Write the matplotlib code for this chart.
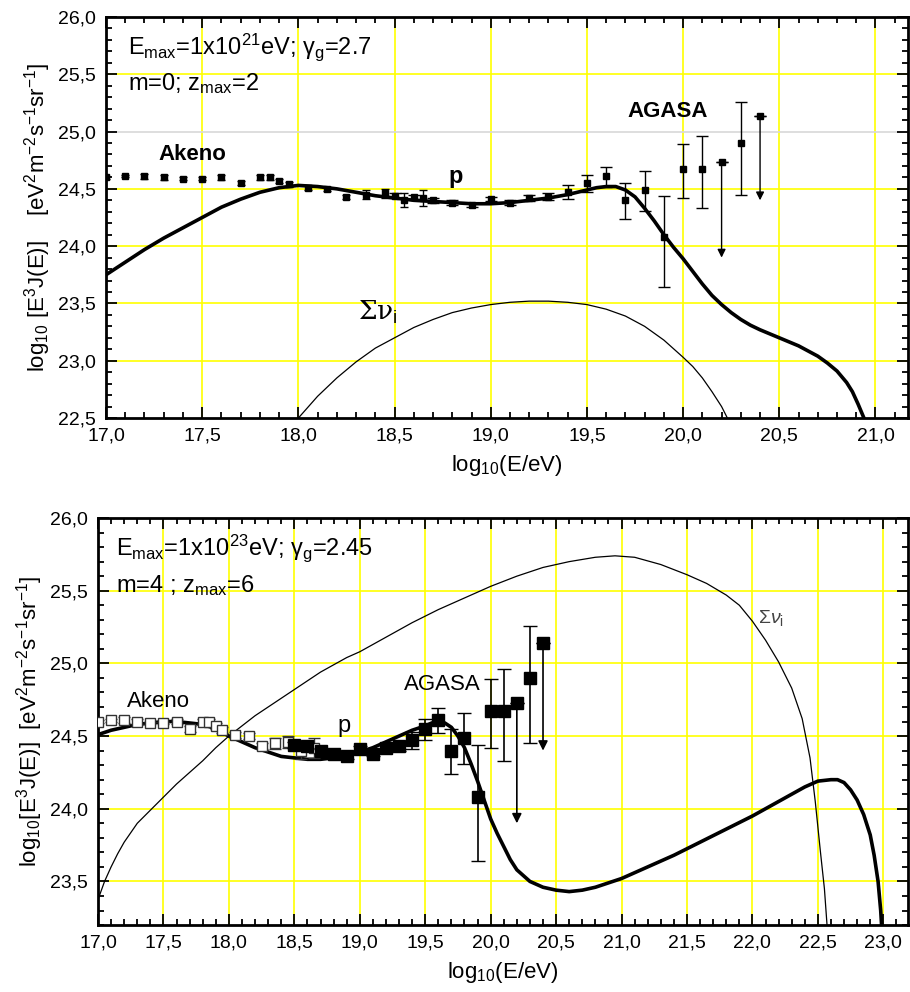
import matplotlib.pyplot as plt
import numpy as np
from matplotlib import font_manager
from matplotlib.ticker import MultipleLocator, FuncFormatter

# font: narrow Arial-like if available
names = {f.name for f in font_manager.fontManager.ttflist}
base = 'Liberation Sans Narrow' if 'Liberation Sans Narrow' in names else 'Liberation Sans'
plt.rcParams['font.family'] = [base, 'DejaVu Sans']
plt.rcParams['mathtext.fontset'] = 'custom'
plt.rcParams['mathtext.rm'] = base
plt.rcParams['mathtext.it'] = base + ':italic'
plt.rcParams['mathtext.bf'] = base + ':bold'

# ---- data (log10 E, log10 E^3 J) ----
akeno_lgE = [17.0, 17.1, 17.2, 17.3, 17.4, 17.5, 17.6, 17.7, 17.8, 17.85,
             17.9, 17.95, 18.05, 18.15, 18.25, 18.35, 18.45, 18.55, 18.65]
akeno_val = [24.60, 24.61, 24.61, 24.60, 24.59, 24.59, 24.60, 24.55, 24.60, 24.60,
             24.57, 24.54, 24.51, 24.50, 24.43, 24.45, 24.46, 24.40, 24.42]
akeno_err = [0.01, 0.01, 0.02, 0.02, 0.01, 0.01, 0.02, 0.02, 0.02, 0.02,
             0.02, 0.02, 0.02, 0.02, 0.02, 0.04, 0.04, 0.06, 0.07]

agasa_lgE = [18.5, 18.6, 18.7, 18.8, 18.9, 19.0, 19.1, 19.2, 19.3, 19.4,
             19.5, 19.6, 19.7, 19.8, 19.9, 20.0, 20.1, 20.2, 20.3, 20.4]
agasa_val = [24.44, 24.43, 24.40, 24.38, 24.36, 24.41, 24.38, 24.42, 24.43, 24.47,
             24.55, 24.61, 24.40, 24.49, 24.08, 24.67, 24.67, 24.73, 24.90, 25.14]
agasa_err_lo = [0.02, 0.02, 0.02, 0.02, 0.02, 0.02, 0.02, 0.03, 0.03, 0.06,
                0.08, 0.09, 0.16, 0.18, 0.44, 0.25, 0.34, 0.0, 0.45, 0.0]
agasa_err_hi = [0.02, 0.02, 0.02, 0.02, 0.02, 0.02, 0.02, 0.03, 0.03, 0.06,
                0.07, 0.08, 0.15, 0.17, 0.36, 0.22, 0.29, 0.0, 0.36, 0.0]
# upper limits
ul_lgE = [20.2, 20.4]
ul_tip = [23.9, 24.4]

# top panel model curves (Emax=1e21, gamma=2.7)
p1_lgE = [17.0, 17.1, 17.2, 17.3, 17.4, 17.5, 17.6, 17.7, 17.8, 17.9,
          18.0, 18.1, 18.2, 18.3, 18.4, 18.5, 18.6, 18.7, 18.8, 18.9,
          19.0, 19.1, 19.2, 19.3, 19.4, 19.5, 19.55, 19.6, 19.65, 19.7,
          19.75, 19.8, 19.85, 19.9, 19.95, 20.0, 20.05, 20.1, 20.15, 20.2,
          20.25, 20.3, 20.35, 20.4, 20.5, 20.6, 20.7, 20.75, 20.8, 20.85,
          20.88, 20.91, 20.94]
p1_val = [23.75, 23.86, 23.97, 24.07, 24.16, 24.25, 24.34, 24.41, 24.47, 24.51,
          24.53, 24.52, 24.50, 24.47, 24.44, 24.42, 24.40, 24.39, 24.38, 24.37,
          24.37, 24.38, 24.40, 24.42, 24.45, 24.49, 24.51, 24.52, 24.52, 24.49,
          24.43, 24.33, 24.22, 24.10, 23.99, 23.89, 23.78, 23.67, 23.57, 23.49,
          23.42, 23.36, 23.31, 23.27, 23.20, 23.13, 23.04, 22.98, 22.91, 22.81,
          22.73, 22.62, 22.50]
nu1_lgE = [18.0, 18.1, 18.2, 18.3, 18.4, 18.5, 18.6, 18.7, 18.8, 18.9,
           19.0, 19.1, 19.2, 19.3, 19.4, 19.5, 19.6, 19.7, 19.8, 19.9,
           20.0, 20.05, 20.1, 20.15, 20.2, 20.23]
nu1_val = [22.50, 22.69, 22.85, 22.99, 23.11, 23.20, 23.29, 23.36, 23.42, 23.46,
           23.49, 23.51, 23.52, 23.52, 23.51, 23.49, 23.45, 23.39, 23.30, 23.18,
           23.03, 22.95, 22.85, 22.73, 22.60, 22.50]

# bottom panel model curves (Emax=1e23, gamma=2.45)
p2_lgE = [17.0, 17.1, 17.2, 17.3, 17.4, 17.5, 17.6, 17.7, 17.8, 17.9,
          18.0, 18.1, 18.2, 18.3, 18.4, 18.5, 18.6, 18.7, 18.8, 18.9,
          19.0, 19.1, 19.2, 19.3, 19.4, 19.5, 19.55, 19.6, 19.65, 19.7,
          19.75, 19.8, 19.85, 19.9, 19.95, 20.0, 20.05, 20.1, 20.15, 20.2,
          20.3, 20.4, 20.5, 20.6, 20.7, 20.8, 20.9, 21.0, 21.2, 21.4,
          21.6, 21.8, 22.0, 22.2, 22.3, 22.4, 22.5, 22.6, 22.65, 22.7,
          22.75, 22.8, 22.85, 22.9, 22.93, 22.96, 22.98, 22.99]
p2_val = [24.51, 24.54, 24.56, 24.58, 24.59, 24.60, 24.60, 24.59, 24.58, 24.55,
          24.50, 24.46, 24.42, 24.39, 24.36, 24.35, 24.34, 24.34, 24.35, 24.37,
          24.39, 24.42, 24.46, 24.50, 24.54, 24.57, 24.59, 24.60, 24.59, 24.56,
          24.50, 24.42, 24.31, 24.19, 24.06, 23.93, 23.83, 23.74, 23.65, 23.58,
          23.50, 23.46, 23.44, 23.43, 23.44, 23.46, 23.49, 23.52, 23.60, 23.68,
          23.77, 23.86, 23.95, 24.05, 24.10, 24.15, 24.19, 24.20, 24.20, 24.18,
          24.13, 24.06, 23.96, 23.82, 23.68, 23.50, 23.30, 23.15]
nu2_lgE = [17.0, 17.05, 17.1, 17.15, 17.2, 17.3, 17.4, 17.5, 17.6, 17.7,
           17.8, 17.9, 18.0, 18.1, 18.2, 18.3, 18.4, 18.5, 18.6, 18.7,
           18.8, 18.9, 19.0, 19.2, 19.4, 19.6, 19.8, 20.0, 20.2, 20.4,
           20.6, 20.8, 20.95, 21.1, 21.3, 21.5, 21.65, 21.8, 21.9, 22.0,
           22.1, 22.2, 22.3, 22.38, 22.44, 22.48, 22.52, 22.55, 22.57]
nu2_val = [23.375, 23.50, 23.60, 23.69, 23.77, 23.90, 23.99, 24.08, 24.17, 24.25,
           24.33, 24.42, 24.50, 24.57, 24.64, 24.70, 24.76, 24.82, 24.88, 24.94,
           24.99, 25.04, 25.08, 25.18, 25.28, 25.37, 25.45, 25.53, 25.60, 25.66,
           25.70, 25.73, 25.74, 25.73, 25.68, 25.61, 25.55, 25.47, 25.40, 25.29,
           25.16, 25.01, 24.83, 24.62, 24.35, 24.05, 23.70, 23.45, 23.20]


def comma(v, pos):
    return f"{v:.1f}".replace('.', ',')


def style_axes(ax, xlim, ylim, yticks, grey_lines=()):
    ax.set_xlim(*xlim)
    ax.set_ylim(*ylim)
    ax.xaxis.set_major_locator(MultipleLocator(0.5))
    ax.xaxis.set_minor_locator(MultipleLocator(0.1))
    ax.set_yticks(yticks)
    ax.yaxis.set_minor_locator(MultipleLocator(0.1))
    ax.xaxis.set_major_formatter(FuncFormatter(comma))
    ax.yaxis.set_major_formatter(FuncFormatter(comma))
    ax.tick_params(which='both', direction='in', top=True, right=True,
                   labelsize=14, width=1.3)
    ax.tick_params(which='major', length=8, pad=7)
    ax.tick_params(which='minor', length=4)
    for s in ax.spines.values():
        s.set_linewidth(2)
    xs = np.arange(xlim[0] + 0.5, xlim[1], 0.5)
    for x in xs:
        ax.axvline(x, color='#ffff00', lw=1.2, zorder=0)
    for y in yticks:
        if ylim[0] < y < ylim[1]:
            c = '#d8d8d8' if y in grey_lines else '#ffff00'
            ax.axhline(y, color=c, lw=1.2, zorder=0)
    ax.set_xlabel(r'log$_{10}$(E/eV)', fontsize=16, labelpad=6)


fig = plt.figure(figsize=(9.1, 9.92), dpi=100)
ax1 = fig.add_axes([0.1165, 0.5786, 0.8815, 0.4043])
ax2 = fig.add_axes([0.1077, 0.0675, 0.8903, 0.4103])

lo = np.array(agasa_err_lo)
hi = np.array(agasa_err_hi)

# ---------- top panel ----------
style_axes(ax1, (17.0, 21.17), (22.5, 26.0), np.arange(22.5, 26.01, 0.5),
           grey_lines=(25.0,))
ax1.plot(nu1_lgE, nu1_val, color='black', lw=0.9, zorder=3)
ax1.plot(p1_lgE, p1_val, color='black', lw=2.6, zorder=3)
ax1.errorbar(akeno_lgE, akeno_val, yerr=akeno_err, fmt='s', color='black',
             ms=4.5, capsize=3, elinewidth=1, zorder=4)
ax1.errorbar(agasa_lgE, agasa_val, yerr=[lo, hi], fmt='s', color='black',
             ms=5, capsize=4, elinewidth=1, zorder=4)
for x, t in zip(ul_lgE, ul_tip):
    v = agasa_val[agasa_lgE.index(x)]
    ax1.annotate('', xy=(x, t), xytext=(x, v),
                 arrowprops=dict(arrowstyle='-|>', color='black', lw=1,
                                 mutation_scale=12, shrinkA=0, shrinkB=0))
ax1.text(17.27, 24.75, 'Akeno', fontsize=16, fontweight='bold')
ax1.text(19.71, 25.13, 'AGASA', fontsize=16, fontweight='bold')
ax1.text(18.78, 24.55, 'p', fontsize=17, fontweight='bold')
ax1.text(18.31, 23.36, r'Σν$_{\rm i}$', fontsize=19, family=['DejaVu Serif'])
ax1.text(0.027, 0.925, r'E$_{\rm max}$=1x10$^{21}$eV; γ$_{\rm g}$=2.7',
         transform=ax1.transAxes, fontsize=17, va='center')
ax1.text(0.027, 0.835, r'm=0; z$_{\rm max}$=2',
         transform=ax1.transAxes, fontsize=17, va='center')
ax1.set_ylabel(r'log$_{10}$ [E$^3$J(E)]    [eV$^2$m$^{-2}$s$^{-1}$sr$^{-1}$]',
               fontsize=16, labelpad=4)

# ---------- bottom panel ----------
style_axes(ax2, (17.0, 23.19), (23.2, 26.0), np.arange(23.5, 26.01, 0.5))
ax2.plot(nu2_lgE, nu2_val, color='black', lw=0.9, zorder=3)
ax2.plot(p2_lgE, p2_val, color='black', lw=2.6, zorder=3)
ax2.errorbar(akeno_lgE, akeno_val, yerr=akeno_err, fmt='s', mfc='white',
             mec='#333333', color='#333333', ms=7, mew=1, capsize=4,
             elinewidth=1, zorder=4)
ax2.errorbar(agasa_lgE, agasa_val, yerr=[lo, hi], fmt='s', color='black',
             ms=8, capsize=5, elinewidth=1.2, zorder=5)
for x, t in zip(ul_lgE, ul_tip):
    v = agasa_val[agasa_lgE.index(x)]
    ax2.annotate('', xy=(x, t), xytext=(x, v),
                 arrowprops=dict(arrowstyle='-|>', color='black', lw=1.2,
                                 mutation_scale=14, shrinkA=0, shrinkB=0))
ax2.text(17.22, 24.70, 'Akeno', fontsize=16)
ax2.text(19.34, 24.82, 'AGASA', fontsize=16)
ax2.text(18.83, 24.53, 'p', fontsize=17)
ax2.text(22.04, 25.28, r'$\Sigma\nu_{\rm i}$', fontsize=14, color='#444444',
         family=['DejaVu Serif'])
ax2.text(0.022, 0.925, r'E$_{\rm max}$=1x10$^{23}$eV; γ$_{\rm g}$=2.45',
         transform=ax2.transAxes, fontsize=17, va='center')
ax2.text(0.022, 0.835, r'm=4 ; z$_{\rm max}$=6',
         transform=ax2.transAxes, fontsize=17, va='center')
ax2.set_ylabel(r'log$_{10}$[E$^3$J(E)]  [eV$^2$m$^{-2}$s$^{-1}$sr$^{-1}$]',
               fontsize=16, labelpad=4)

fig.savefig('out.png', dpi=100)
